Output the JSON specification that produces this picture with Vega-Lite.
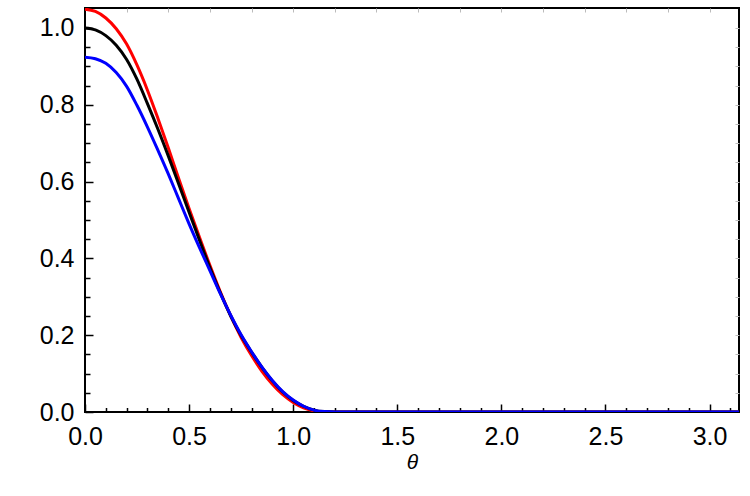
{
  "$schema": "https://vega.github.io/schema/vega-lite/v6.json",
  "width": 654,
  "height": 404,
  "autosize": {"type": "none"},
  "padding": {"left": 85, "top": 8, "right": 11, "bottom": 84},
  "background": "white",
  "config": {
    "view": {"stroke": "black", "strokeWidth": 2},
    "axis": {"grid": false, "domain": false, "labelFont": "Liberation Sans", "titleFont": "Liberation Sans", "labelColor": "black", "titleColor": "black", "tickColor": "black", "labelFlush": false, "labelOverlap": false}
  },
  "datasets": {
    "red": [
      {"theta": 0, "value": 1.049}, {"theta": 0.05, "value": 1.043}, {"theta": 0.1, "value": 1.026},
      {"theta": 0.15, "value": 0.998}, {"theta": 0.2, "value": 0.958}, {"theta": 0.25, "value": 0.903},
      {"theta": 0.3, "value": 0.838}, {"theta": 0.35, "value": 0.765}, {"theta": 0.4, "value": 0.688},
      {"theta": 0.45, "value": 0.608}, {"theta": 0.5, "value": 0.53}, {"theta": 0.55, "value": 0.455},
      {"theta": 0.6, "value": 0.382}, {"theta": 0.65, "value": 0.313}, {"theta": 0.7, "value": 0.25},
      {"theta": 0.75, "value": 0.194}, {"theta": 0.8, "value": 0.147}, {"theta": 0.85, "value": 0.106},
      {"theta": 0.9, "value": 0.072}, {"theta": 0.95, "value": 0.045}, {"theta": 1.0, "value": 0.025},
      {"theta": 1.05, "value": 0.011}, {"theta": 1.1, "value": 0.003}, {"theta": 1.15, "value": 0.0},
      {"theta": 1.2, "value": 0.0}, {"theta": 3.1416, "value": 0.0}
    ],
    "black": [
      {"theta": 0, "value": 1.0}, {"theta": 0.05, "value": 0.995}, {"theta": 0.1, "value": 0.98},
      {"theta": 0.15, "value": 0.955}, {"theta": 0.2, "value": 0.918}, {"theta": 0.25, "value": 0.866},
      {"theta": 0.3, "value": 0.803}, {"theta": 0.35, "value": 0.737}, {"theta": 0.4, "value": 0.667},
      {"theta": 0.45, "value": 0.594}, {"theta": 0.5, "value": 0.52}, {"theta": 0.55, "value": 0.447},
      {"theta": 0.6, "value": 0.376}, {"theta": 0.65, "value": 0.31}, {"theta": 0.7, "value": 0.25},
      {"theta": 0.75, "value": 0.199}, {"theta": 0.8, "value": 0.156}, {"theta": 0.85, "value": 0.116},
      {"theta": 0.9, "value": 0.081}, {"theta": 0.95, "value": 0.052}, {"theta": 1.0, "value": 0.03},
      {"theta": 1.05, "value": 0.015}, {"theta": 1.1, "value": 0.005}, {"theta": 1.15, "value": 0.001},
      {"theta": 1.2, "value": 0.0}, {"theta": 3.1416, "value": 0.0}
    ],
    "blue": [
      {"theta": 0, "value": 0.924}, {"theta": 0.05, "value": 0.92}, {"theta": 0.1, "value": 0.908},
      {"theta": 0.15, "value": 0.884}, {"theta": 0.2, "value": 0.848}, {"theta": 0.25, "value": 0.798},
      {"theta": 0.3, "value": 0.742}, {"theta": 0.35, "value": 0.682}, {"theta": 0.4, "value": 0.62},
      {"theta": 0.45, "value": 0.555}, {"theta": 0.5, "value": 0.49}, {"theta": 0.55, "value": 0.428},
      {"theta": 0.6, "value": 0.368}, {"theta": 0.65, "value": 0.308}, {"theta": 0.7, "value": 0.252},
      {"theta": 0.75, "value": 0.201}, {"theta": 0.8, "value": 0.157}, {"theta": 0.85, "value": 0.117},
      {"theta": 0.9, "value": 0.082}, {"theta": 0.95, "value": 0.053}, {"theta": 1.0, "value": 0.031},
      {"theta": 1.05, "value": 0.015}, {"theta": 1.1, "value": 0.005}, {"theta": 1.15, "value": 0.001},
      {"theta": 1.2, "value": 0.0}, {"theta": 3.1416, "value": 0.0}
    ]
  },
  "layer": [
    {
      "data": {"name": "red"},
      "mark": {"type": "line", "color": "#ff0000", "strokeWidth": 3, "interpolate": "monotone", "clip": true},
      "encoding": {
        "x": {"field": "theta", "type": "quantitative", "scale": {"domain": [0, 3.1416], "nice": false, "zero": false},
          "axis": {"orient": "bottom", "values": [0, 0.5, 1, 1.5, 2, 2.5, 3], "format": ".1f", "tickSize": -8, "tickWidth": 1.5,
            "labelFontSize": 25, "labelPadding": 20, "title": "θ", "titleFontSize": 21, "titleFontStyle": "italic", "titleFontWeight": "normal",
            "titleY": 56, "titleBaseline": "alphabetic"}},
        "y": {"field": "value", "type": "quantitative", "scale": {"domain": [0, 1.052], "nice": false, "zero": false},
          "axis": {"orient": "left", "values": [0, 0.2, 0.4, 0.6, 0.8, 1.0], "format": ".1f", "tickSize": -8, "tickWidth": 1.5,
            "labelFontSize": 25, "labelPadding": 19, "title": null}}
      }
    },
    {
      "data": {"name": "black"},
      "mark": {"type": "line", "color": "#000000", "strokeWidth": 3, "interpolate": "monotone", "clip": true},
      "encoding": {
        "x": {"field": "theta", "type": "quantitative",
          "axis": {"orient": "bottom", "values": [0.1, 0.2, 0.3, 0.4, 0.6, 0.7, 0.8, 0.9, 1.1, 1.2, 1.3, 1.4, 1.6, 1.7, 1.8, 1.9, 2.1, 2.2, 2.3, 2.4, 2.6, 2.7, 2.8, 2.9, 3.1],
            "tickSize": -4.5, "tickWidth": 1.5, "labels": false, "title": null}},
        "y": {"field": "value", "type": "quantitative",
          "axis": {"orient": "left", "values": [0.05, 0.1, 0.15, 0.25, 0.3, 0.35, 0.45, 0.5, 0.55, 0.65, 0.7, 0.75, 0.85, 0.9, 0.95],
            "tickSize": -5, "tickWidth": 1.5, "labels": false, "title": null}}
      }
    },
    {
      "data": {"name": "blue"},
      "mark": {"type": "line", "color": "#0000ff", "strokeWidth": 3, "interpolate": "monotone", "clip": true},
      "encoding": {
        "x": {"field": "theta", "type": "quantitative",
          "axis": {"orient": "top", "values": [0.2, 0.4, 0.6, 0.8, 1.0, 1.2, 1.4, 1.6, 1.8, 2.0, 2.2, 2.4, 2.6, 2.8, 3.0],
            "tickSize": -4, "tickWidth": 1, "tickColor": "#bbbbbb", "labels": false, "title": null}},
        "y": {"field": "value", "type": "quantitative",
          "axis": {"orient": "right", "values": [0.05, 0.1, 0.15, 0.2, 0.25, 0.3, 0.35, 0.4, 0.45, 0.5, 0.55, 0.6, 0.65, 0.7, 0.75, 0.8, 0.85, 0.9, 0.95, 1.0],
            "tickSize": -4, "tickWidth": 1, "tickColor": "#bbbbbb", "labels": false, "title": null}}
      }
    }
  ],
  "resolve": {"axis": {"x": "independent", "y": "independent"}}
}
